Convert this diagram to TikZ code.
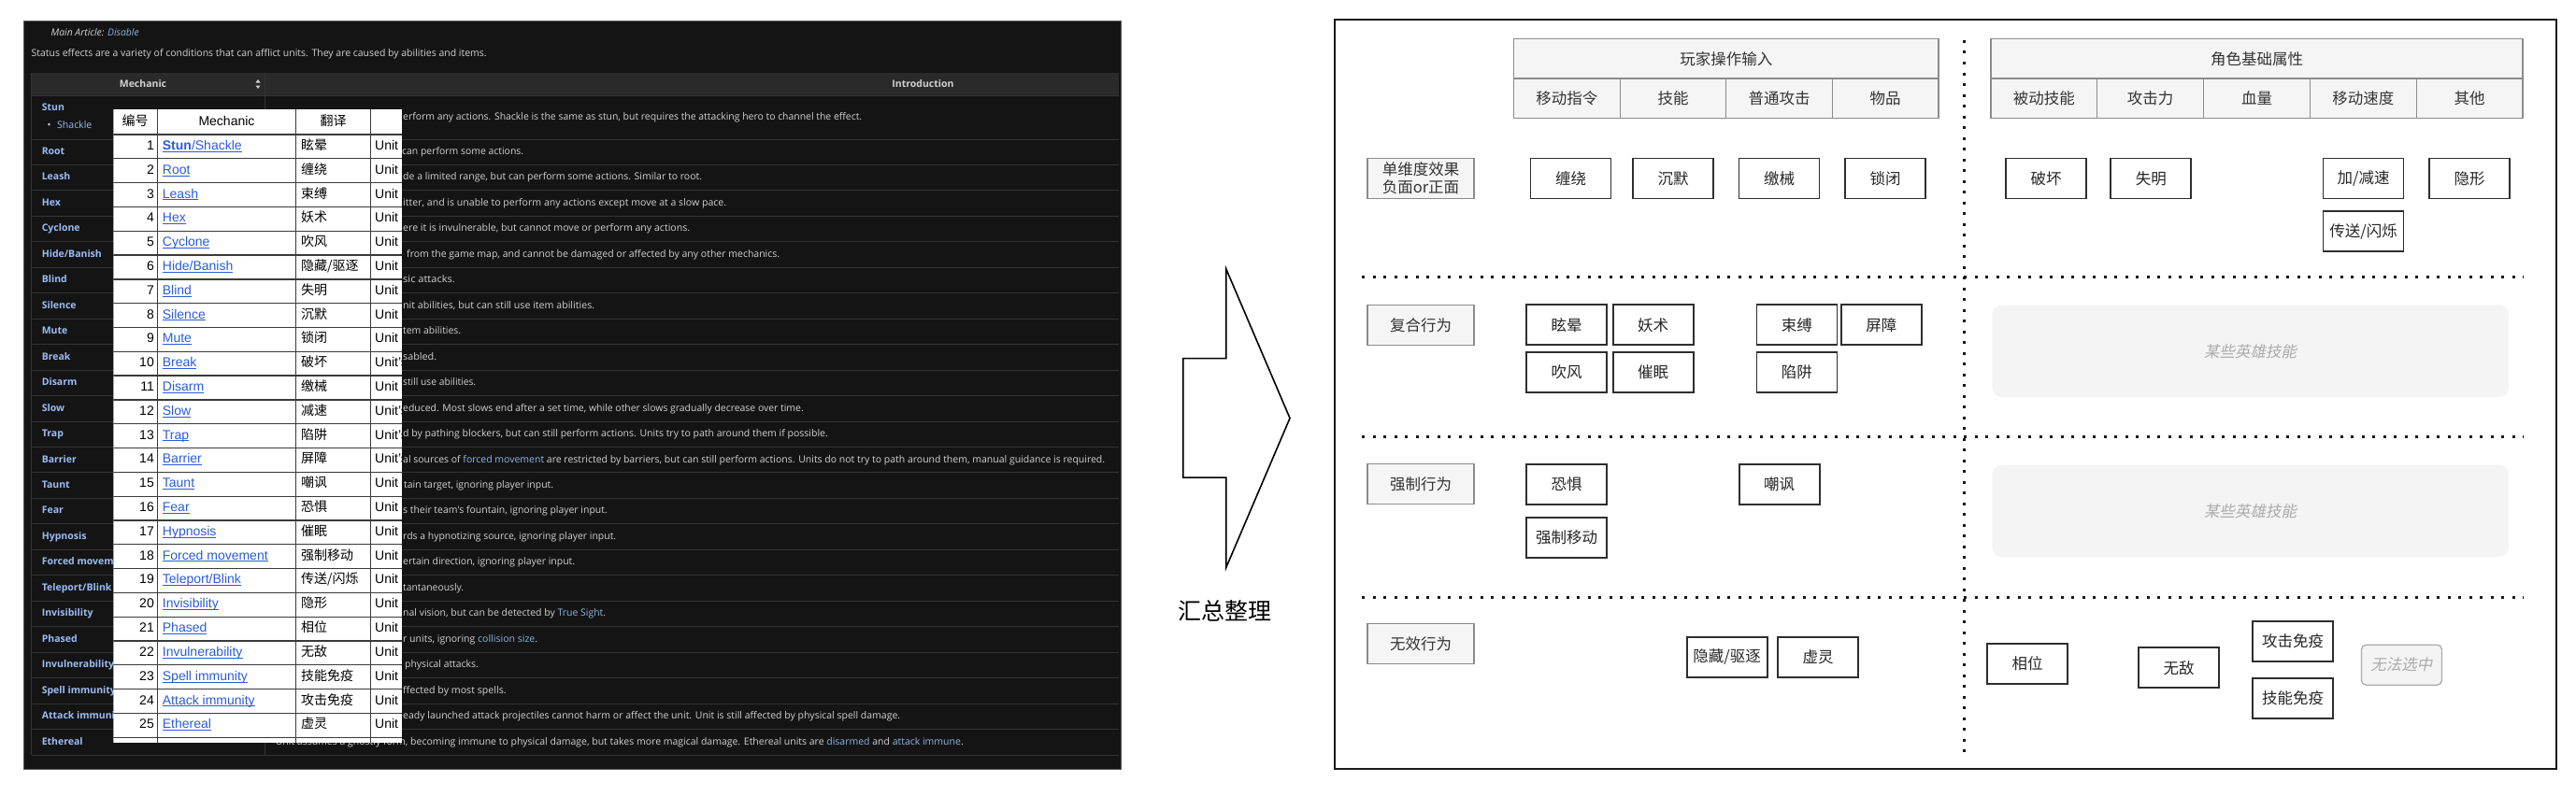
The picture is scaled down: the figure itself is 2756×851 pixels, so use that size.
\documentclass[tikz,border=0pt]{standalone}
\usepackage{fontspec}
\usepackage{graphicx}
\setmainfont{Liberation Sans}
\newfontfamily\cjk{Noto Sans CJK SC}
\newfontfamily\cjkit[FakeSlant=0.2]{Noto Sans CJK SC}
\newfontfamily\wiki{Open Sans}
\newsavebox\fitbox
\newcommand\fitw[2]{\sbox\fitbox{#2}\pgfmathsetmacro\fitsx{#1/\wd\fitbox}\scalebox{\fitsx}[1]{\usebox\fitbox}}
\newsavebox\lnkbox
\newcommand\lnk[1]{\sbox\lnkbox{#1}\rlap{\rule[-2.2pt]{\wd\lnkbox}{0.9pt}}\usebox\lnkbox}
\definecolor{dkbg}{HTML}{141414}
\definecolor{dkhead}{HTML}{2A2A2A}
\definecolor{dkline}{HTML}{333333}
\definecolor{dkborder}{HTML}{5A5A5A}
\definecolor{dktext}{HTML}{D2D2D2}
\definecolor{dkname}{HTML}{9CBDF5}
\definecolor{dklink}{HTML}{8DB4E2}
\definecolor{ovlink}{HTML}{2B5CD6}
\definecolor{ovline}{HTML}{3A3A3A}
\definecolor{hdrfill}{HTML}{F5F5F5}
\definecolor{hdrline}{HTML}{8C8C8C}
\definecolor{ghost}{HTML}{ABABAB}
\definecolor{ghostfill}{HTML}{F4F4F4}
\definecolor{lbltext}{HTML}{333333}
\definecolor{itemline}{HTML}{2E2E2E}
\tikzset{
  dktxt/.style={anchor=west, inner sep=0pt, text=dktext, text height=8pt, text depth=2.5pt, font=\wiki\fontsize{10.5}{12}\selectfont},
  dkname/.style={anchor=west, inner sep=0pt, text=dkname, text height=8pt, text depth=2.5pt, font=\wiki\bfseries\fontsize{10.5}{12}\selectfont},
  dkhd/.style={inner sep=0pt, text=dktext, font=\wiki\bfseries\fontsize{10.5}{12}\selectfont},
  ovl/.style={draw=ovline, line width=1.3pt},
  ovtxt/.style={inner sep=0pt, text height=10pt, text depth=3pt, font=\fontsize{14}{16}\selectfont},
  ovcjk/.style={inner sep=0pt, text height=10pt, text depth=3pt, font=\cjk\fontsize{14}{16}\selectfont},
  item/.style={draw=itemline, line width=1.8pt, fill=white, minimum width=86pt, minimum height=43pt, inner sep=0pt, text=black!85, font=\cjk\fontsize{16.5}{19}\selectfont},
  lbl/.style={draw=hdrline, line width=1.3pt, fill=hdrfill, minimum width=114pt, minimum height=43pt, inner sep=0pt, text=lbltext, align=center, font=\cjk\fontsize{16.5}{19}\selectfont},
  hcell/.style={draw=hdrline, line width=1.3pt, fill=hdrfill, inner sep=0pt, text=lbltext, font=\cjk\fontsize{16.5}{19}\selectfont},
  ghostbox/.style={fill=ghostfill, rounded corners=10pt, inner sep=0pt, text=ghost, font=\cjkit\fontsize{16.5}{19}\selectfont},
  dotline/.style={line width=3pt, dash pattern=on 3pt off 8.5pt, draw=black!90}
}
\begin{document}
\begin{tikzpicture}[x=1pt,y=-1pt]
\useasboundingbox (0,0) rectangle (2756,851);
% ================= dark wiki panel =================
\fill[dkbg] (25,23) rectangle (1199,823);
\draw[dkborder, line width=1pt] (25,23) rectangle (1199,823);
\node[dktxt, font=\wiki\itshape\fontsize{10.5}{12}\selectfont] (mainart) at (54.5,36) {\fitw{94}{Main Article: \textcolor{dklink}{Disable}}};
\node[dktxt] (status) at (33.5,58) {\fitw{487}{Status effects are a variety of conditions that can afflict units. They are caused by abilities and items.}};
\fill[dkhead] (33.5,78) rectangle (1197,102);
\node[dkhd] (hmech) at (153,90) {Mechanic};
\fill[dktext] (273.5,88.5) -- (278.5,88.5) -- (276,85) -- cycle;
\fill[dktext] (273.5,91.5) -- (278.5,91.5) -- (276,95) -- cycle;
\node[dkhd] (hintro) at (987.5,90) {Introduction};
\draw[dkline, line width=1pt] (33.5,102) -- (1197,102);
\foreach \k in {0,...,24} \draw[dkline, line width=1pt] (33.5,{149+27.46*\k}) -- (1197,{149+27.46*\k});
\draw[dkline, line width=1pt] (33.5,78) -- (33.5,808);
\draw[dkline, line width=1pt] (283.5,78) -- (283.5,808);
\node[dkname] (dnStun) at (44.6,116) {Stun};
\node[dktxt] (dnBullet) at (50.5,135) {•};
\node[dkname, font=\wiki\fontsize{10.5}{12}\selectfont] (dnShackle) at (61,135) {Shackle};
\foreach \nm [count=\k] in {{Root},{Leash},{Hex},{Cyclone},{Hide/Banish},{Blind},{Silence},{Mute},{Break},{Disarm},{Slow},{Trap},{Barrier},{Taunt},{Fear},{Hypnosis},{Forced movement},{Teleport/Blink},{Invisibility},{Phased},{Invulnerability},{Spell immunity},{Attack immunity},{Ethereal}}
  \node[dkname] (dn\k) at (44.6,{149+27.46*(\k-0.5)}) {\nm};
% introduction texts (visible parts)
\node[dktxt] (it1) at (431,125.5) {\fitw{491}{erform any actions. Shackle is the same as stun, but requires the attacking hero to channel the effect.}};
\node[dktxt] (it2) at (430,162.7) {\fitw{130}{can perform some actions.}};
\node[dktxt] (it3) at (431,190.2) {\fitw{320}{de a limited range, but can perform some actions. Similar to root.}};
\node[dktxt] (it4) at (431,217.6) {\fitw{346}{itter, and is unable to perform any actions except move at a slow pace.}};
\node[dktxt] (it5) at (431,245.1) {\fitw{307}{ere it is invulnerable, but cannot move or perform any actions.}};
\node[dktxt] (it6) at (435,272.6) {\fitw{399}{from the game map, and cannot be damaged or affected by any other mechanics.}};
\node[dktxt] (it7) at (431,300) {\fitw{55.6}{sic attacks.}};
\node[dktxt] (it8) at (431,327.5) {\fitw{205}{nit abilities, but can still use item abilities.}};
\node[dktxt] (it9) at (431,354.9) {\fitw{62}{tem abilities.}};
\node[dktxt] (it10) at (431,382.4) {\fitw{36}{sabled.}};
\node[dktxt] (it11) at (431,409.9) {\fitw{78}{still use abilities.}};
\node[dktxt] (it12) at (431,437.3) {\fitw{428.6}{educed. Most slows end after a set time, while other slows gradually decrease over time.}};
\node[dktxt] (it13) at (431,464.8) {\fitw{454.7}{d by pathing blockers, but can still perform actions. Units try to path around them if possible.}};
\node[dktxt] (it14) at (431,492.3) {\fitw{751}{al sources of \textcolor{dklink}{forced movement} are restricted by barriers, but can still perform actions. Units do not try to path around them, manual guidance is required.}};
\node[dktxt] (it15) at (432,519.7) {\fitw{160}{tain target, ignoring player input.}};
\node[dktxt] (it16) at (431,547.2) {\fitw{218.6}{s their team's fountain, ignoring player input.}};
\node[dktxt] (it17) at (431,574.6) {\fitw{228}{rds a hypnotizing source, ignoring player input.}};
\node[dktxt] (it18) at (431,602.1) {\fitw{184}{ertain direction, ignoring player input.}};
\node[dktxt] (it19) at (431,629.6) {\fitw{65}{tantaneously.}};
\node[dktxt] (it20) at (431,657) {\fitw{217}{nal vision, but can be detected by \textcolor{dklink}{True Sight}.}};
\node[dktxt] (it21) at (431,684.5) {\fitw{144}{r units, ignoring \textcolor{dklink}{collision size}.}};
\node[dktxt] (it22) at (433,712) {\fitw{78.6}{physical attacks.}};
\node[dktxt] (it23) at (431,739.4) {\fitw{110.5}{ffected by most spells.}};
\node[dktxt] (it24) at (431,766.9) {\fitw{532}{eady launched attack projectiles cannot harm or affect the unit. Unit is still affected by physical spell damage.}};
\node[dktxt] (it25) at (294.6,795) {\fitw{736}{Unit assumes a ghostly form, becoming immune to physical damage, but takes more magical damage. Ethereal units are \textcolor{dklink}{disarmed} and \textcolor{dklink}{attack immune}.}};
% ================= white overlay table =================
\begin{scope}
\clip (121.4,117.3) rectangle (430,795);
\fill[white] (121.4,117.3) rectangle (430,795);
\foreach \k in {0,...,25} \draw[ovl] (121.4,{144+25.81*\k}) -- (430,{144+25.81*\k});
\foreach \x in {168.3,316.5,396.4} \draw[ovl] (\x,117.3) -- (\x,795);
\node[ovcjk] (ovh1) at (144.5,130.7) {编号};
\node[ovtxt] (ovh2) at (242.5,130.7) {Mechanic};
\node[ovcjk] (ovh3) at (356.5,130.7) {翻译};
\foreach \m/\c/\u [count=\k] in {{\textbf{Stun}/Shackle}/眩晕/Unit, Root/缠绕/Unit, Leash/束缚/Unit, Hex/妖术/Unit, Cyclone/吹风/Unit, {Hide/Banish}/{隐藏/驱逐}/Unit, Blind/失明/Unit, Silence/沉默/Unit, Mute/锁闭/Unit, Break/破坏/Unit's, Disarm/缴械/Unit, Slow/减速/Unit's, Trap/陷阱/Unit's, Barrier/屏障/Unit's, Taunt/嘲讽/Unit, Fear/恐惧/Unit, Hypnosis/催眠/Unit, {Forced movement}/强制移动/Unit, {Teleport/Blink}/{传送/闪烁}/Unit, Invisibility/隐形/Unit, Phased/相位/Unit, Invulnerability/无敌/Unit, {Spell immunity}/技能免疫/Unit, {Attack immunity}/攻击免疫/Unit, Ethereal/虚灵/Unit}
{
  \node[ovtxt, anchor=east] (ovn\k) at (165,{144+25.81*(\k-0.5)}) {\k};
  \node[ovtxt, anchor=west, text=ovlink] (ovm\k) at (173.7,{144+25.81*(\k-0.5)}) {\lnk{\m}};
  \node[ovcjk, anchor=west] (ovc\k) at (322,{144+25.81*(\k-0.5)}) {\c};
  \node[ovtxt, anchor=west] (ovu\k) at (401,{144+25.81*(\k-0.5)}) {\u};
}
\end{scope}
% ================= arrow =================
\draw[black, line width=1.6pt, fill=white, line join=miter]
  (1265.7,383.6) -- (1311.7,383.6) -- (1311.7,287.6) -- (1380,447.6) -- (1311.7,607.7) -- (1311.7,511.1) -- (1265.7,511.1) -- cycle;
\node[inner sep=0pt, font=\cjk\fontsize{25}{28}\selectfont] (summary) at (1310,654) {汇总整理};
% ================= right panel =================
\draw[black!90, line width=2pt] (1427.6,20.7) rectangle (2735,823.3);
\draw[dotline] (2101.7,43) -- (2101.7,810);
\foreach \yy in {296,467.7,639} \draw[dotline] (1457,\yy) -- (2700,\yy);
% header 1
\node[hcell, minimum width=454.4pt, minimum height=42.3pt] (ph) at (1846.8,62.85) {玩家操作输入};
\foreach \t [count=\k] in {移动指令,技能,普通攻击,物品}
  \node[hcell, minimum width=113.6pt, minimum height=42.7pt] (ph\k) at ({1619.6+113.6*(\k-0.5)},105.35) {\t};
% header 2
\node[hcell, minimum width=569pt, minimum height=42.3pt] (rh) at (2414.5,62.85) {角色基础属性};
\foreach \t [count=\k] in {被动技能,攻击力,血量,移动速度,其他}
  \node[hcell, minimum width=113.8pt, minimum height=42.7pt] (rh\k) at ({2130+113.8*(\k-0.5)},105.35) {\t};
% row labels
\node[lbl] (l1) at (1520,191) {单维度效果\\负面or正面};
\node[lbl] (l2) at (1520,347.8) {复合行为};
\node[lbl] (l3) at (1520,518.3) {强制行为};
\node[lbl] (l4) at (1520,689.2) {无效行为};
% row 1
\node[item] (i1) at (1680.5,191) {缠绕};
\node[item] (i2) at (1790,191) {沉默};
\node[item] (i3) at (1903.5,191) {缴械};
\node[item] (i4) at (2017,191) {锁闭};
\node[item] (i5) at (2189,191) {破坏};
\node[item] (i6) at (2301.3,191) {失明};
\node[item] (i7) at (2528.5,191) {加/减速};
\node[item] (i8) at (2642,191) {隐形};
\node[item] (i9) at (2528.5,247.8) {传送/闪烁};
% row 2
\node[item] (c1) at (1676,347.8) {眩晕};
\node[item] (c2) at (1768.6,347.8) {妖术};
\node[item] (c3) at (1676,398.7) {吹风};
\node[item] (c4) at (1768.6,398.7) {催眠};
\node[item] (c5) at (1922.4,347.8) {束缚};
\node[item] (c6) at (2012.9,347.8) {屏障};
\node[item] (c7) at (1922.4,398.7) {陷阱};
\node[ghostbox, minimum width=552.6pt, minimum height=98.3pt] (g1) at (2407.7,375.85) {某些英雄技能};
% row 3
\node[item] (f1) at (1676,518.3) {恐惧};
\node[item] (f2) at (1676,575.3) {强制移动};
\node[item] (f3) at (1903.6,518.3) {嘲讽};
\node[ghostbox, minimum width=552.6pt, minimum height=98.3pt] (g2) at (2407.7,546.85) {某些英雄技能};
% row 4
\node[item] (n1) at (1847.6,703.5) {隐藏/驱逐};
\node[item] (n2) at (1945,703.5) {虚灵};
\node[item] (n3) at (2169,710.5) {相位};
\node[item] (n4) at (2331,714.8) {无敌};
\node[item] (n5) at (2453,686.2) {攻击免疫};
\node[item] (n6) at (2453,747.3) {技能免疫};
\node[item, draw=ghost, line width=1.3pt, fill=ghostfill, rounded corners=5pt, text=ghost, font=\cjkit\fontsize{16.5}{19}\selectfont] (n7) at (2569.4,711.7) {无法选中};
\end{tikzpicture}
\end{document}
